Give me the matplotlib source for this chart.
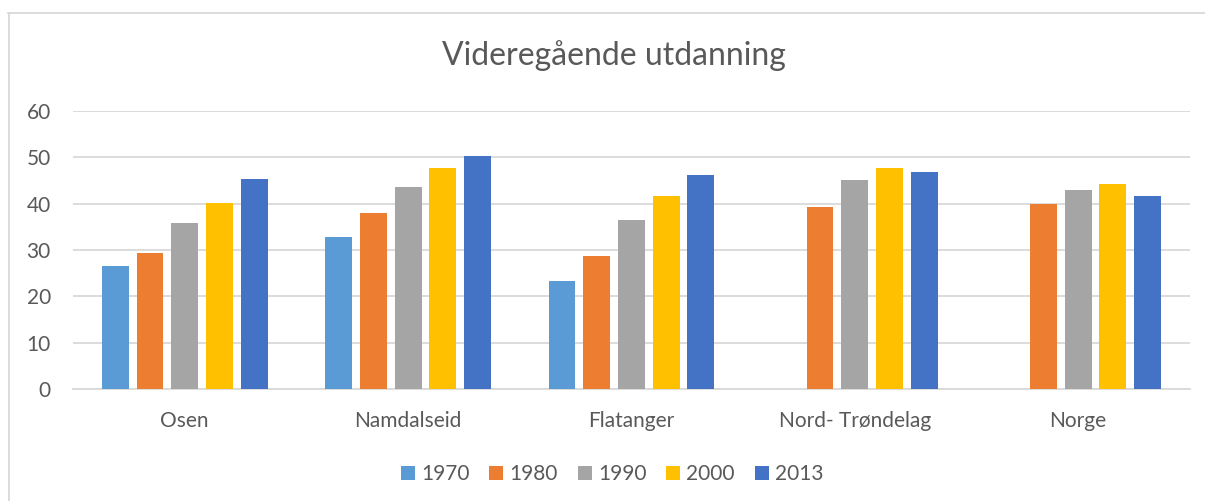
import numpy as np
import matplotlib
matplotlib.use("Agg")
import matplotlib.pyplot as plt
from matplotlib.lines import Line2D

plt.rcParams['font.family'] = ['Lato', 'DejaVu Sans']

# data
kommuner = ['Osen', 'Namdalseid', 'Flatanger', 'Nord- Trøndelag', 'Norge']
aar = ['1970', '1980', '1990', '2000', '2013']
v1970 = [26.6, 32.9, 23.2, np.nan, np.nan]
v1980 = [29.4, 37.9, 28.7, 39.3, 39.9]
v1990 = [35.9, 43.5, 36.5, 45.0, 42.9]
v2000 = [40.1, 47.7, 41.7, 47.6, 44.2]
v2013 = [45.3, 50.2, 46.2, 46.8, 41.7]
farger = ['#5B9BD5', '#ED7D31', '#A5A5A5', '#FFC000', '#4472C4']

serier = [v1970, v1980, v1990, v2000, v2013]

fig = plt.figure(figsize=(12.05, 5.01), dpi=100)
ax = fig.add_axes([0.0606, 0.2236, 0.9267, 0.5549])

x = np.arange(len(kommuner))
steg = 0.1553
bredde = 0.1208
for i, (verdier, farge, navn) in enumerate(zip(serier, farger, aar)):
    ax.bar(x + (i - 2) * steg, verdier, width=bredde, color=farge, label=navn, zorder=3)

tekstfarge = '#595959'
ax.set_xlim(-0.5, len(kommuner) - 0.5)
ax.set_ylim(0, 60)
ax.set_yticks(range(0, 61, 10))
ax.set_xticks(x)
ax.set_xticklabels(kommuner)
ax.tick_params(axis='y', length=0, pad=16, labelsize=15, labelcolor=tekstfarge)
ax.tick_params(axis='x', length=0, pad=16, labelsize=15, labelcolor=tekstfarge)
ax.yaxis.grid(True, color='#D9D9D9', linewidth=1.3, zorder=0)
for s in ['top', 'right', 'left']:
    ax.spines[s].set_visible(False)
ax.spines['bottom'].set_color('#D9D9D9')
ax.spines['bottom'].set_linewidth(1.3)

fig.text(0.5095, 1 - 65 / 501, 'Videregående utdanning', ha='center', va='baseline',
         fontsize=23, color=tekstfarge)

fig.legend(loc='center', bbox_to_anchor=(0.508, 0.054), ncol=5, frameon=False,
           fontsize=15, labelcolor=tekstfarge, handlelength=0.67, handleheight=0.67,
           handletextpad=0.3, columnspacing=0.95)

# kantlinje rundt diagrammet
fig.add_artist(Line2D([8 / 1205, 1], [1 - 12.5 / 501] * 2, color='#D9D9D9', linewidth=1.3))
fig.add_artist(Line2D([9 / 1205] * 2, [0, 1 - 12.5 / 501], color='#D9D9D9', linewidth=1.3))

fig.savefig('out.png', dpi=100, facecolor='white')
